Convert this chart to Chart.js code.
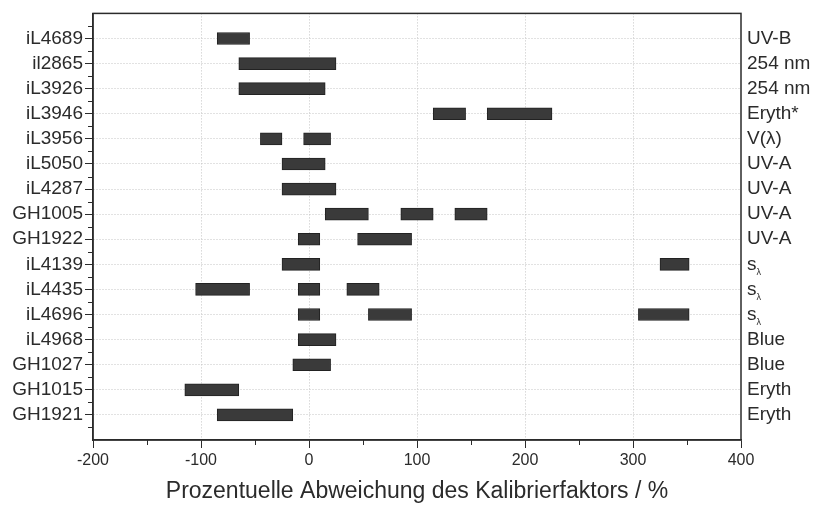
<!DOCTYPE html>
<html>
<head>
<meta charset="utf-8">
<script src="https://cdn.jsdelivr.net/npm/chart.js@4"></script>
<style>
  html, body { margin: 0; padding: 0; background: #fff; }
  #wrap { width: 814px; height: 509px; }
</style>
</head>
<body>
<div id="wrap"><canvas id="chart"></canvas></div>
<script>
const instruments = ["iL4689", "il2865", "iL3926", "iL3946", "iL3956", "iL5050", "iL4287", "GH1005",
  "GH1922", "iL4139", "iL4435", "iL4696", "iL4968", "GH1027", "GH1015", "GH1921"];
// "_" marks a subscript
const sensorTypes = ["UV-B", "254 nm", "254 nm", "Eryth*", "V(λ)", "UV-A", "UV-A", "UV-A",
  "UV-A", "s_λ", "s_λ", "s_λ", "Blue", "Blue", "Eryth", "Eryth"];

// deviation ranges in %, up to three per instrument
const firstRange = [[-85, -55], [-65, 25], [-65, 15], [115, 145], [-45, -25], [-25, 15], [-25, 25], [15, 55],
  [-10, 10], [-25, 10], [-105, -55], [-10, 10], [-10, 25], [-15, 20], [-115, -65], [-85, -15]];
const secondRange = [null, null, null, [165, 225], [-5, 20], null, null, [85, 115],
  [45, 95], [325, 352], [-10, 10], [55, 95], null, null, null, null];
const thirdRange = [null, null, null, null, null, null, null, [135, 165],
  null, null, [35, 65], [305, 352], null, null, null, null];

const xTicks = [-200, -100, 0, 100, 200, 300, 400];

const FONT = "'Liberation Sans', Arial, sans-serif";
const INK = "#2b2b2b";

function toPoints(ranges) {
  return ranges.map((r, i) => (r ? { x: r, y: i } : null)).filter((p) => p);
}

function rangeDataset(ranges) {
  return {
    data: toPoints(ranges),
    backgroundColor: "#3a3a3a",
    borderColor: "#222",
    borderWidth: 1,
    borderSkipped: false,
    barThickness: 12,
    grouped: false,
  };
}

const framePlugin = {
  id: "framePlugin",
  afterDraw: (chart) => {
    const { ctx, chartArea, scales } = chart;
    const y = scales.y;
    const x = scales.x;

    ctx.save();
    ctx.strokeStyle = INK;
    ctx.lineWidth = 1.5;
    ctx.strokeRect(chartArea.left, chartArea.top, chartArea.right - chartArea.left, chartArea.bottom - chartArea.top);

    // minor ticks
    ctx.lineWidth = 1;
    ctx.beginPath();
    for (let v = -0.5; v <= 15.5; v += 1) {
      const py = Math.round(y.getPixelForValue(v)) + 0.5;
      ctx.moveTo(chartArea.left - 5, py);
      ctx.lineTo(chartArea.left, py);
    }
    for (let v = -150; v < 400; v += 100) {
      const px = Math.round(x.getPixelForValue(v)) + 0.5;
      ctx.moveTo(px, chartArea.bottom);
      ctx.lineTo(px, chartArea.bottom + 5);
    }
    ctx.stroke();

    // sensor type labels on the right
    ctx.fillStyle = INK;
    ctx.textBaseline = "middle";
    ctx.textAlign = "left";
    sensorTypes.forEach((label, i) => {
      const py = y.getPixelForValue(i);
      const px = chartArea.right + 6;
      const [base, sub] = label.split("_");
      ctx.font = `19px ${FONT}`;
      ctx.fillText(base, px, py);
      if (sub) {
        const w = ctx.measureText(base).width;
        ctx.font = `9px ${FONT}`;
        ctx.fillText(sub, px + w, py + 8);
      }
    });
    ctx.restore();
  },
};

new Chart(document.getElementById("chart"), {
  type: "bar",
  data: {
    datasets: [rangeDataset(firstRange), rangeDataset(secondRange), rangeDataset(thirdRange)],
  },
  options: {
    indexAxis: "y",
    responsive: true,
    maintainAspectRatio: false,
    animation: false,
    layout: { padding: { top: 13, right: 73, left: 0, bottom: 0 } },
    plugins: {
      legend: { display: false },
      tooltip: { enabled: false },
    },
    scales: {
      x: {
        type: "linear",
        min: -200,
        max: 400,
        afterBuildTicks: (scale) => {
          scale.ticks = xTicks.map((v) => ({ value: v }));
        },
        afterFit: (scale) => {
          scale.height = 69;
        },
        ticks: {
          font: { family: FONT, size: 16 },
          color: INK,
          padding: 3,
          maxRotation: 0,
        },
        grid: {
          color: (ctx) => (ctx.tick && (ctx.tick.value === -200 || ctx.tick.value === 400) ? "transparent" : "#c4c4c4"),
          lineWidth: 1,
          tickLength: 8,
          tickColor: INK,
        },
        border: { display: true, color: INK, width: 1.5, dash: [1, 2] },
        title: {
          display: true,
          text: "Prozentuelle Abweichung des Kalibrierfaktors / %",
          font: { family: FONT, size: 23 },
          color: INK,
          padding: { top: 0, bottom: 4 },
        },
      },
      y: {
        type: "linear",
        reverse: true,
        offset: false,
        min: -1,
        max: 16,
        afterBuildTicks: (scale) => {
          scale.ticks = instruments.map((_, i) => ({ value: i }));
        },
        afterFit: (scale) => {
          scale.width = 93;
        },
        ticks: {
          font: { family: FONT, size: 19 },
          color: INK,
          padding: 2,
          callback: (value) => instruments[value] || "",
        },
        grid: {
          offset: false,
          color: "#c4c4c4",
          lineWidth: 1,
          tickLength: 8,
          tickColor: INK,
        },
        border: { display: true, color: INK, width: 1.5, dash: [1, 2] },
      },
    },
  },
  plugins: [framePlugin],
});
</script>
</body>
</html>
